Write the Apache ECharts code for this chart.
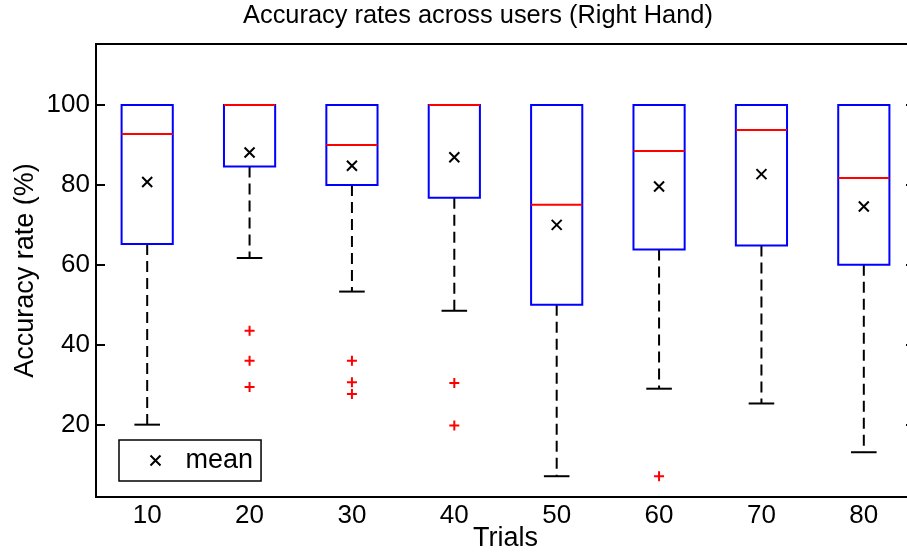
<!DOCTYPE html>
<html>
<head>
<meta charset="utf-8">
<title>Accuracy rates across users (Right Hand)</title>
<script src="https://cdn.jsdelivr.net/npm/echarts@6/dist/echarts.min.js"></script>
<style>
  html, body { margin: 0; padding: 0; background: #fff; }
  #chart { width: 907px; height: 554px; }
</style>
</head>
<body>
<div id="chart"></div>
<script>
// Number of trials per session (x categories)
const trials = ['10', '20', '30', '40', '50', '60', '70', '80'];

// Box statistics per trial count (accuracy rate, %)
const lowerWhisker = [20.0, 61.7, 53.3, 48.5, 7.1, 29.0, 25.3, 13.1];
const quartile1    = [65.2, 84.6, 80.0, 76.8, 50.0, 63.8, 64.8, 60.0];
const medians      = [92.7, 100, 90.0, 100, 75.0, 88.5, 93.7, 81.7];
const quartile3    = [100, 100, 100, 100, 100, 100, 100, 100];
const upperWhisker = [100, 100, 100, 100, 100, 100, 100, 100];
const means        = [80.7, 88.1, 84.8, 86.9, 70.0, 79.6, 82.7, 74.6];

// Outliers: [trial index, accuracy]
const outlierTrial = [1, 1, 1, 2, 2, 2, 3, 3, 5];
const outlierValue = [43.5, 36.0, 29.4, 36.0, 30.6, 27.7, 30.4, 19.8, 7.1];

// Y-axis tick labels
const yTicks = [20, 40, 60, 80, 100];

const FONT = '"Liberation Sans", Arial, Helvetica, sans-serif';

const boxRows = trials.map((t, i) => [i, lowerWhisker[i], quartile1[i], medians[i], quartile3[i], upperWhisker[i]]);
const meanRows = means.map((m, i) => [i, m]);
const outlierRows = outlierTrial.map((t, k) => [t, outlierValue[k]]);

function renderBox(params, api) {
  const i = api.value(0);
  const lo = api.value(1), q1 = api.value(2), med = api.value(3), q3 = api.value(4), hi = api.value(5);
  const band = api.size([1, 0])[0];
  const cx = api.coord([i, 0])[0];
  const y = v => api.coord([i, v])[1];
  const bw = band * 0.5, cw = band * 0.25;
  const dash = { stroke: '#000', lineWidth: 2, lineDash: [11, 6] };
  const solid = { stroke: '#000', lineWidth: 2 };
  const children = [];
  if (hi > q3) {
    children.push({ type: 'line', shape: { x1: cx, y1: y(hi), x2: cx, y2: y(q3) }, style: dash });
    children.push({ type: 'line', shape: { x1: cx - cw / 2, y1: y(hi), x2: cx + cw / 2, y2: y(hi) }, style: solid });
  }
  if (lo < q1) {
    children.push({ type: 'line', shape: { x1: cx, y1: y(q1), x2: cx, y2: y(lo) }, style: dash });
    children.push({ type: 'line', shape: { x1: cx - cw / 2, y1: y(lo), x2: cx + cw / 2, y2: y(lo) }, style: solid });
  }
  children.push({
    type: 'rect',
    shape: { x: cx - bw / 2, y: y(q3), width: bw, height: y(q1) - y(q3) },
    style: { fill: 'none', stroke: '#0000ff', lineWidth: 2 }
  });
  children.push({
    type: 'line',
    shape: { x1: cx - bw / 2, y1: y(med), x2: cx + bw / 2, y2: y(med) },
    style: { stroke: '#ff0000', lineWidth: 2 }
  });
  return { type: 'group', children };
}

const chart = echarts.init(document.getElementById('chart'), null, { renderer: 'canvas' });

chart.setOption({
  backgroundColor: '#fff',
  animation: false,
  title: {
    text: 'Accuracy rates across users (Right Hand)',
    left: 243,
    top: 3,
    padding: 0,
    textStyle: { fontFamily: FONT, fontSize: 25.4, fontWeight: 'normal', color: '#000' }
  },
  legend: {
    data: [{
      name: 'mean',
      icon: 'path://M0,0L10,10M0,10L10,0',
      itemStyle: { color: 'none', borderColor: '#000', borderWidth: 2 }
    }],
    left: 119,
    top: 440,
    orient: 'vertical',
    padding: [7, 8, 7, 29],
    itemWidth: 10,
    itemHeight: 10,
    borderColor: '#000',
    borderWidth: 1.5,
    borderRadius: 0,
    backgroundColor: '#fff',
    selectedMode: false,
    textStyle: { fontFamily: FONT, fontSize: 27, color: '#000', lineHeight: 26, padding: [0, 0, 0, 20] }
  },
  grid: {
    left: 96,
    top: 44,
    width: 819,
    height: 453,
    outerBoundsMode: 'none',
    containLabel: false,
    show: true,
    borderColor: '#000',
    borderWidth: 2,
    backgroundColor: 'transparent'
  },
  xAxis: [{
    type: 'category',
    data: trials,
    boundaryGap: true,
    axisLine: { lineStyle: { color: '#000', width: 2 } },
    axisTick: { show: false },
    axisLabel: { fontFamily: FONT, fontSize: 26, color: '#000', margin: 6 },
    splitLine: { show: false },
    name: 'Trials',
    nameLocation: 'middle',
    nameGap: 28,
    nameMoveOverlap: false,
    nameTextStyle: { fontFamily: FONT, fontSize: 27, color: '#000' }
  }],
  yAxis: [{
    type: 'value',
    min: 1.9,
    max: 115.25,
    axisLine: { show: true, lineStyle: { color: '#000', width: 2 } },
    axisTick: { show: true, inside: true, length: 9, customValues: yTicks, lineStyle: { color: '#000', width: 2 } },
    axisLabel: { fontFamily: FONT, fontSize: 26, color: '#000', margin: 6, customValues: yTicks },
    splitLine: { show: false },
    name: 'Accuracy rate (%)',
    nameLocation: 'middle',
    nameRotate: 90,
    nameGap: 57,
    nameMoveOverlap: false,
    nameTextStyle: { fontFamily: FONT, fontSize: 27, color: '#000' }
  }, {
    type: 'value',
    position: 'right',
    min: 1.9,
    max: 115.25,
    axisLine: { show: false },
    axisTick: { show: true, inside: true, length: 9, customValues: yTicks, lineStyle: { color: '#000', width: 2 } },
    axisLabel: { show: false },
    splitLine: { show: false }
  }],
  series: [{
    name: 'box',
    type: 'custom',
    renderItem: renderBox,
    encode: { x: 0, y: [1, 2, 3, 4, 5] },
    data: boxRows,
    z: 2
  }, {
    name: 'outliers',
    type: 'scatter',
    data: outlierRows,
    symbol: 'path://M5,0L5,10M0,5L10,5',
    symbolSize: 10,
    itemStyle: { color: 'none', borderColor: '#ff0000', borderWidth: 2, opacity: 1 },
    z: 3
  }, {
    name: 'mean',
    type: 'scatter',
    data: meanRows,
    symbol: 'path://M0,0L10,10M0,10L10,0',
    symbolSize: 10,
    itemStyle: { color: 'none', borderColor: '#000', borderWidth: 2, opacity: 1 },
    z: 4
  }]
});
</script>
</body>
</html>
